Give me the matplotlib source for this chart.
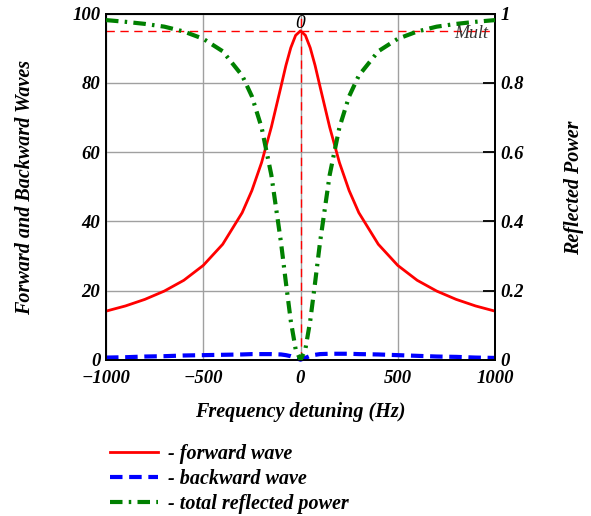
import numpy as np
import matplotlib
matplotlib.use("Agg")
from matplotlib import pyplot as plt
from matplotlib.lines import Line2D

plt.rcParams['font.family'] = ['Liberation Serif', 'DejaVu Serif']

# detuning points (Hz)
freq = [-1000, -900, -800, -700, -600, -500, -400, -300, -250, -200, -150, -100, -75, -50, -25, 0,
        25, 50, 75, 100, 150, 200, 250, 300, 400, 500, 600, 700, 800, 900, 1000]

# forward wave amplitude (left axis)
forward = [14.1, 15.6, 17.5, 19.9, 23.0, 27.3, 33.4, 42.5, 48.9, 57.0, 67.2, 79.0, 85.0, 90.1, 93.7, 95.0,
           93.7, 90.1, 85.0, 79.0, 67.2, 57.0, 48.9, 42.5, 33.4, 27.3, 23.0, 19.9, 17.5, 15.6, 14.1]

# backward wave amplitude (left axis)
backward = [0.7, 0.8, 1.0, 1.1, 1.3, 1.4, 1.5, 1.6, 1.7, 1.7, 1.7, 1.6, 1.4, 1.1, 0.6, 0.1,
            0.6, 1.2, 1.5, 1.7, 1.8, 1.8, 1.8, 1.7, 1.6, 1.4, 1.2, 1.0, 0.9, 0.7, 0.6]

# total reflected power (right axis)
reflected = [0.981, 0.976, 0.970, 0.962, 0.948, 0.927, 0.891, 0.821, 0.761, 0.671, 0.534, 0.338, 0.223, 0.113, 0.031, 0.0,
             0.031, 0.113, 0.223, 0.338, 0.534, 0.671, 0.761, 0.821, 0.891, 0.927, 0.948, 0.962, 0.970, 0.976, 0.981]

mult = 95
xticks = [-1000, -500, 0, 500, 1000]
xlabels = ['\u22121000', '\u2212500', '0', '500', '1000']
yticks = [0, 20, 40, 60, 80, 100]
rticks = [0, 0.2, 0.4, 0.6, 0.8, 1]
rlabels = ['0', '0.2', '0.4', '0.6', '0.8', '1']

fig = plt.figure(figsize=(5.91, 5.16), dpi=100)
ax = fig.add_axes([106/591, 156/516, 389/591, 346.5/516])
ax2 = ax.twinx()

tick_font = dict(fontsize=13.5, fontweight='bold', fontstyle='italic')

ax.set_xlim(-1000, 1000)
ax.set_ylim(0, 100)
ax2.set_ylim(0, 1)

ax.set_xticks(xticks)
ax.set_xticklabels(xlabels, **tick_font)
ax.set_yticks(yticks)
ax.set_yticklabels([str(v) for v in yticks], **tick_font)
ax2.set_yticks(rticks)
ax2.set_yticklabels(rlabels, **tick_font)

ax.grid(True, color='#a0a0a0', lw=1)
ax.tick_params(axis='y', length=0, pad=4)
ax.tick_params(axis='x', length=0, pad=7)
ax2.tick_params(axis='y', direction='in', length=9, width=1.3, pad=4)
for a in (ax, ax2):
    for s in a.spines.values():
        s.set_linewidth(1.3)

# marker lines
ax.axhline(mult, color='red', lw=1, ls=(0, (6, 4)), zorder=2)
ax.axvline(0, color='red', lw=1, ls=(0, (6, 4)), zorder=2)
ax.text(0, 94.6, '0', ha='center', va='bottom', fontsize=14, fontstyle='italic')
ax.text(964, 94.3, 'Mult', ha='right', va='center', fontsize=13, fontstyle='italic', color='#333333')

ax.plot(freq, forward, color='red', lw=2, zorder=4)
ax.plot(freq, backward, color='blue', lw=3, ls=(0, (3, 1.6)), zorder=4, clip_on=False)
ax2.plot(freq, reflected, color='green', lw=3, ls=(0, (3, 1.5, 0.6, 1.5)), zorder=4)

label_font = dict(fontsize=14.5, fontweight='bold', fontstyle='italic')
ax.set_xlabel('Frequency detuning (Hz)', labelpad=11, **label_font)
fig.text(25/591, 1 - 187/516, 'Forward and Backward Waves', rotation=90, ha='center', va='center', **label_font)
fig.text(574/591, 1 - 188/516, 'Reflected Power', rotation=90, ha='center', va='center', **label_font)

handles = [Line2D([], [], color='red', lw=2),
           Line2D([], [], color='blue', lw=3, ls=(0, (3, 1.6))),
           Line2D([], [], color='green', lw=3, ls=(0, (3, 1.5, 0.6, 1.5)))]
labels = ['- forward wave', '- backward wave', '- total reflected power']
fig.legend(handles, labels, loc='upper left', bbox_to_anchor=(92/591, 1 - 426/516), frameon=False,
           handlelength=2.4, handletextpad=0.45, labelspacing=0.25,
           prop=dict(family='Liberation Serif', size=14.5, weight='bold', style='italic'))

fig.savefig('out.png', dpi=100)
